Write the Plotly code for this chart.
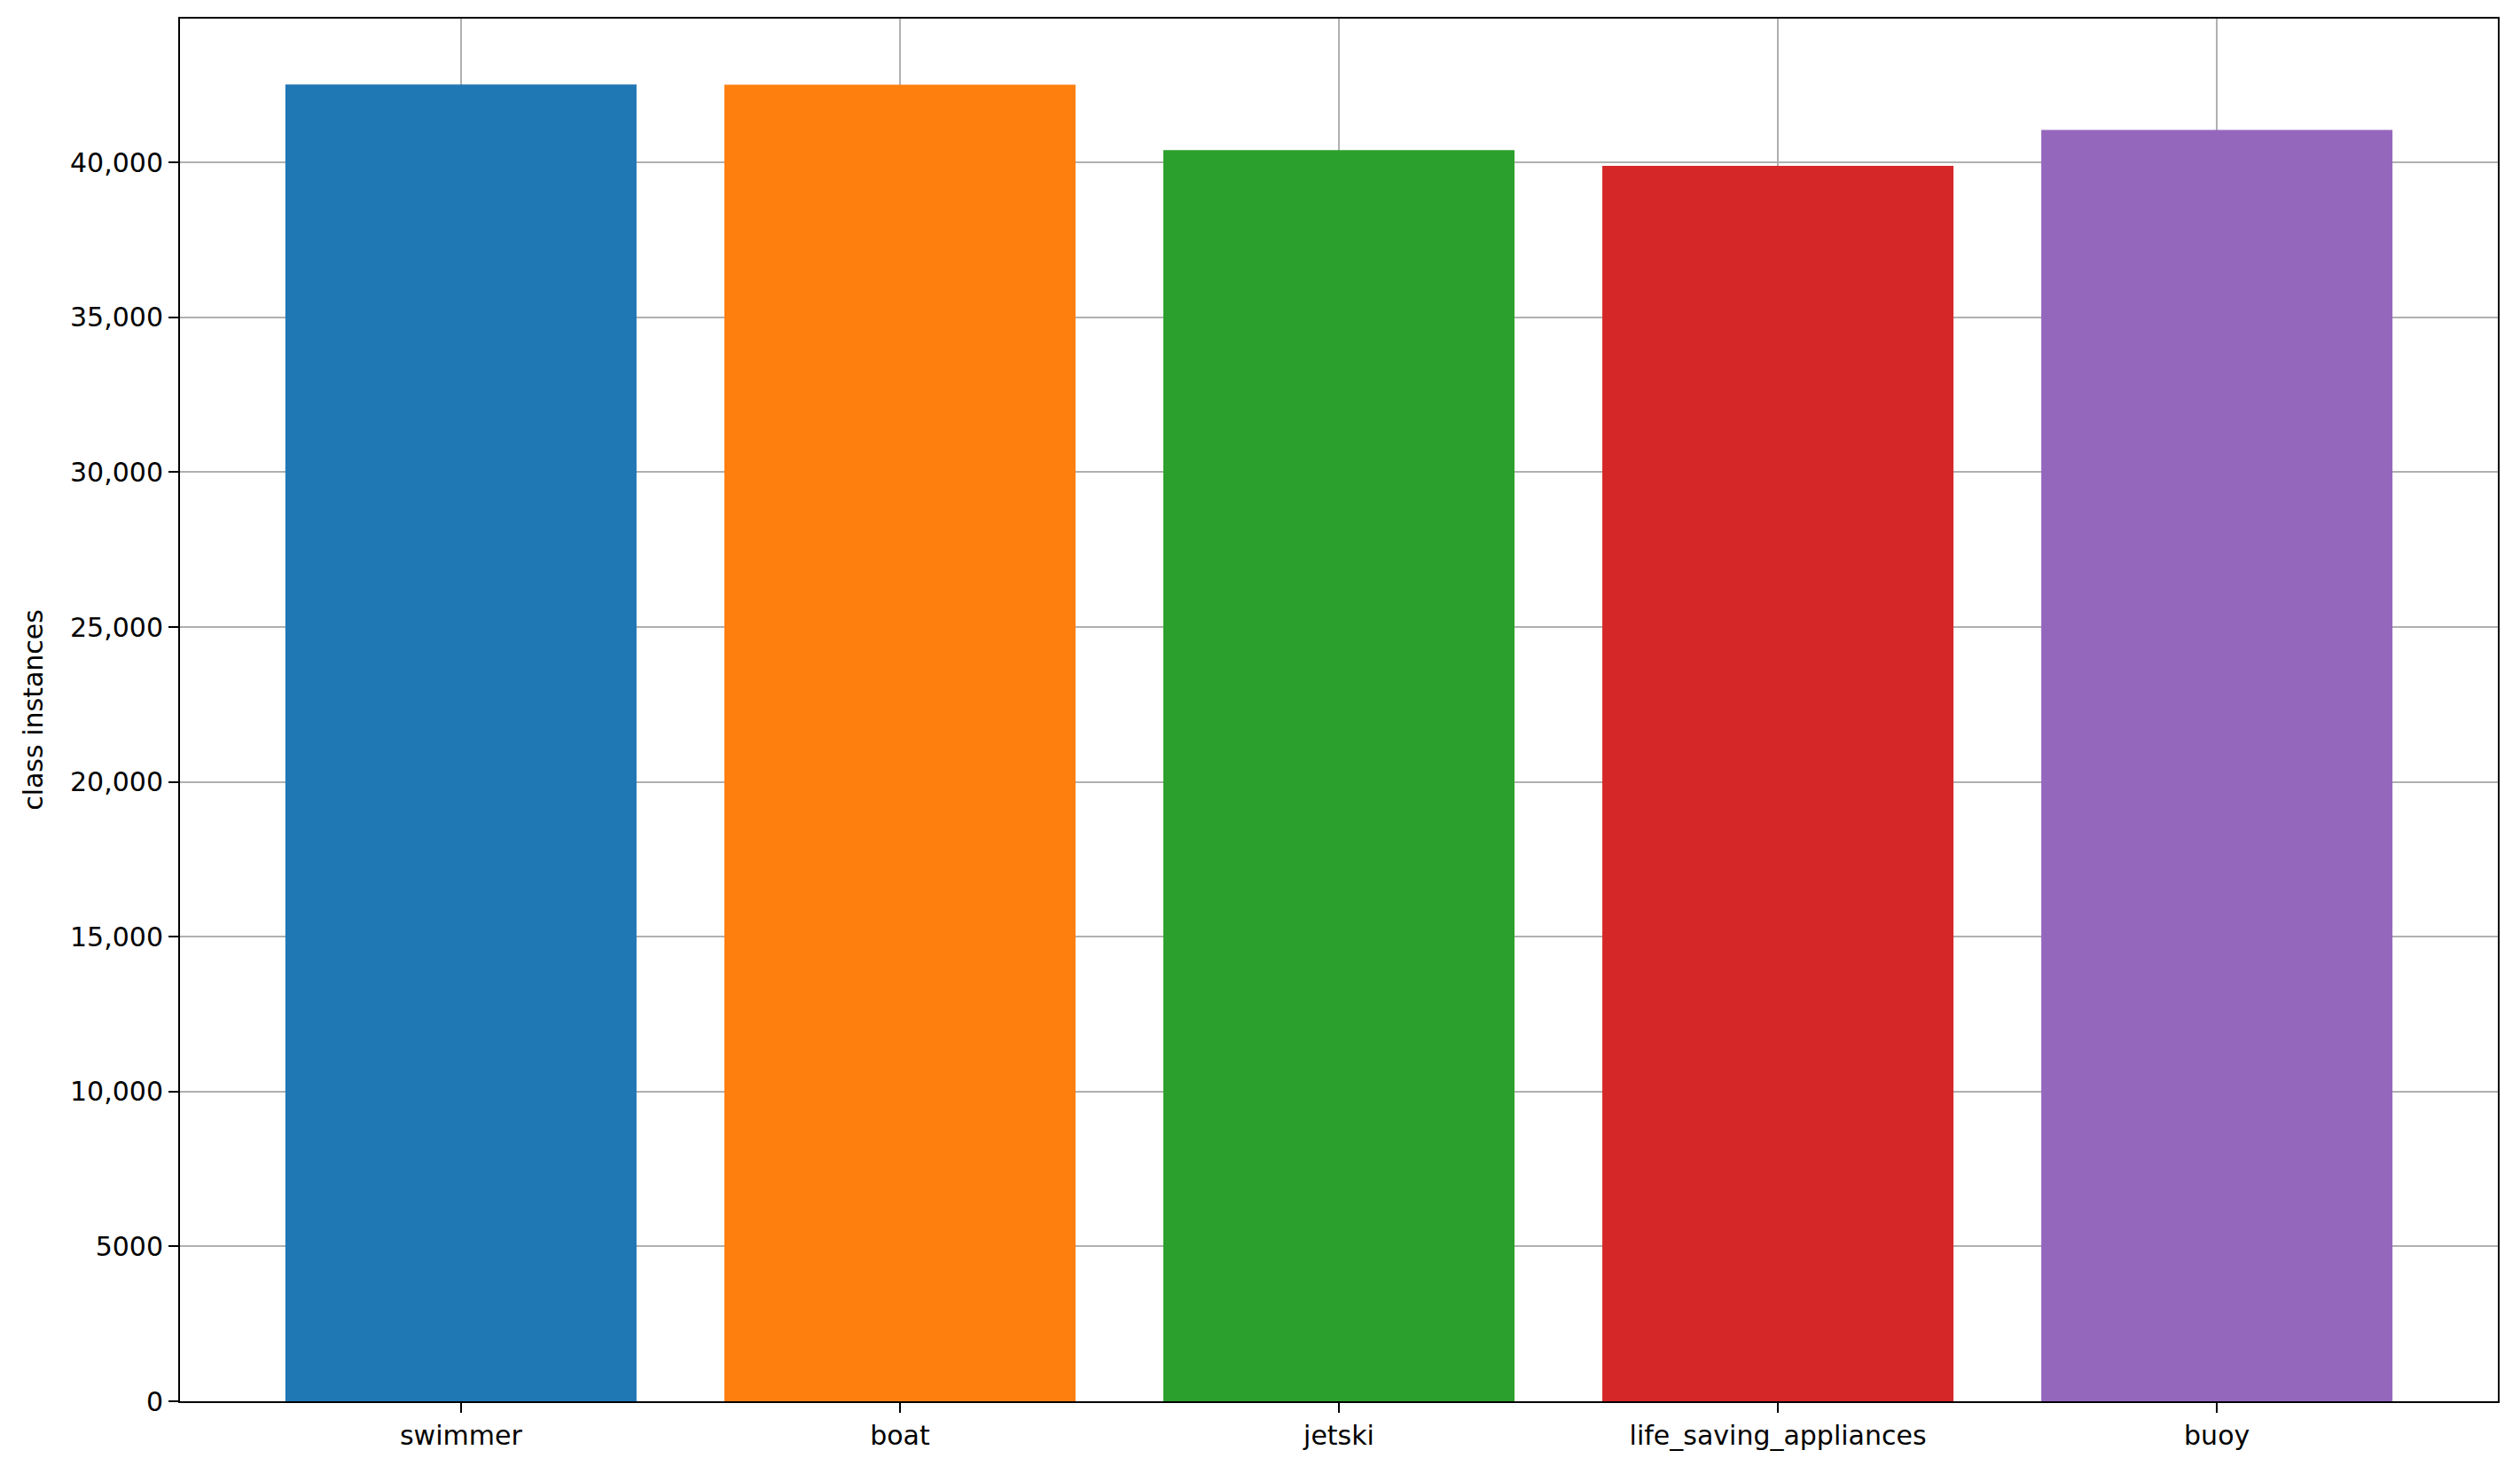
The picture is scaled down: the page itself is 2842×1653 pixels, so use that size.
import plotly.graph_objects as go

# class instance counts
classes = ["swimmer", "boat", "jetski", "life_saving_appliances", "buoy"]
instances = [42520, 42510, 40400, 39890, 41050]
bar_colors = ["#1f77b4", "#ff7f0e", "#2ca02c", "#d62728", "#9467bd"]

y_ticks = [0, 5000, 10000, 15000, 20000, 25000, 30000, 35000, 40000]
y_ticktext = ["0", "5000", "10,000", "15,000", "20,000", "25,000", "30,000", "35,000", "40,000"]

fig = go.Figure([go.Bar(x=classes, y=instances, marker_color=bar_colors,
                        marker_line_width=0, width=0.8)])

# page body has an 8px margin, so shift the plot area back by that much
fig.update_layout(
    width=2842, height=1653,
    margin=dict(l=195, r=33, t=13, b=81),
    plot_bgcolor="white", paper_bgcolor="white",
    font=dict(family="DejaVu Sans", size=30, color="black"),
    showlegend=False,
)

fig.update_xaxes(type="category", range=[-0.64, 4.64], automargin=False,
                 showgrid=True, gridcolor="#b0b0b0", gridwidth=2,
                 showline=True, linewidth=2, linecolor="black", mirror=True,
                 ticks="outside", ticklen=11, tickwidth=2, tickcolor="black")
fig.update_yaxes(range=[0, max(instances) * 1.05], automargin=False,
                 tickvals=y_ticks, ticktext=y_ticktext,
                 showgrid=True, gridcolor="#b0b0b0", gridwidth=2, zeroline=False,
                 showline=True, linewidth=2, linecolor="black", mirror=True,
                 ticks="outside", ticklen=11, tickwidth=2, tickcolor="black",
                 title=dict(text="class instances", standoff=22,
                            font=dict(family="DejaVu Sans", size=30)))

fig.write_html("out.html")
